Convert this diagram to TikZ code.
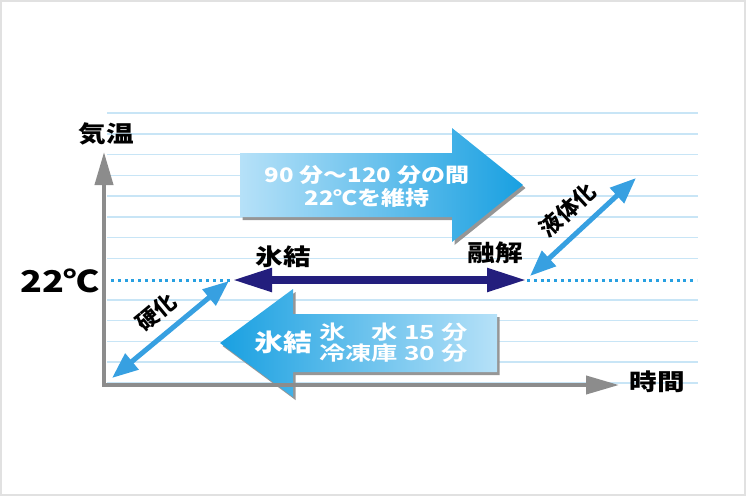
\documentclass[tikz,border=0pt]{standalone}
\usepackage{fontspec}
\usetikzlibrary{arrows.meta}
\newfontfamily\jp{Noto Sans CJK JP}[BoldFont={Noto Sans CJK JP Black}]
\newfontfamily\jpw{Noto Sans CJK JP}[BoldFont={Noto Sans CJK JP Black},FakeStretch=1.2]
\newfontfamily\jpx{Noto Sans CJK JP}[BoldFont={Noto Sans CJK JP Bold},FakeStretch=1.35]
\definecolor{gridblue}{RGB}{200,229,246}
\definecolor{axisgray}{RGB}{140,140,140}
\definecolor{dotblue}{RGB}{40,160,225}
\definecolor{navyblue}{RGB}{35,30,125}
\definecolor{diagblue}{RGB}{55,160,225}
\definecolor{arrowlight}{RGB}{182,225,248}
\definecolor{arrowdeep}{RGB}{25,160,225}
\definecolor{shadowgray}{RGB}{150,150,150}
\definecolor{framegray}{RGB}{225,225,225}
\newcommand\keeppath{(240,153) -- (452,153) -- (452,128) -- (523,185) -- (452,242) -- (452,217) -- (240,217) -- cycle}
\newcommand\frzpath{(497,314) -- (293,314) -- (293,289) -- (220,343) -- (293,397) -- (293,372) -- (497,372) -- cycle}
\tikzset{
  gridline/.style={draw=gridblue,line width=1.5pt},
  axis/.style={draw=axisgray,line width=4pt,{Triangle[width=18pt,length=33pt]}-{Triangle[width=18pt,length=33pt]}},
  lab/.style={inner sep=0pt,text=black,font=\jpw\bfseries\fontsize{23}{23}\selectfont},
  slab/.style={inner sep=0pt,text=black,font=\jp\bfseries\fontsize{22}{22}\selectfont},
  dots/.style={draw=dotblue,line width=3pt,dash pattern=on 3pt off 3.8pt},
  hold/.style={draw=navyblue,line width=8pt,{Triangle[width=22pt,length=40pt]}-{Triangle[width=22pt,length=40pt]}},
  phase/.style={draw=diagblue,line width=5pt,{Triangle[width=20pt,length=26pt]}-{Triangle[width=20pt,length=26pt]}},
  wtext/.style={inner sep=0pt,text=white,font=\jpw\bfseries\fontsize{20}{23}\selectfont},
  wlines/.style={inner sep=0pt,text=white,font=\jpx\bfseries\fontsize{19.5}{21}\selectfont}
}
\begin{document}
\begin{tikzpicture}[x=1pt,y=-1pt]
\useasboundingbox (0,0) rectangle (752,499);
\draw[framegray,line width=1.5pt] (1,1) rectangle (745,495);

\foreach \k in {0,...,7,9,10,11,12,13}
  \draw[gridline] (107,113+20.77*\k) -- (698,113+20.77*\k);

\coordinate (O) at (104,385);
\coordinate (ytop) at (104,152);
\coordinate (xend) at (619,385);
\coordinate (ax22) at (111,280);
\coordinate (r22) at (697,280);
\coordinate (frz) at (232,280);
\coordinate (mlt) at (527,280);
\coordinate (hk1) at (112,378);
\coordinate (hk2) at (229,281);
\coordinate (ek1) at (530,276);
\coordinate (ek2) at (636,178);

\fill[shadowgray,shift={(2.5,3)}] \keeppath;
\shade[left color=arrowlight,right color=arrowdeep] \keeppath;
\fill[shadowgray,shift={(2.5,3)}] \frzpath;
\shade[left color=arrowdeep,right color=arrowlight] \frzpath;

\node[wtext,align=center] (keeptxt) at (367,186) {90 分～120 分の間\\22℃を維持};
\node[inner sep=0pt,text=white,font=\jpw\bfseries\fontsize{24}{24}\selectfont] (frztxt) at (283,342) {氷結};
\node[wlines,anchor=west,align=left] (frztime) at (319,343) {氷　水 15 分\\冷凍庫 30 分};

\draw[dots] (ax22) -- (frz);
\draw[dots] (mlt) -- (r22);
\draw[axis] (xend) -- (O) -- (ytop);
\draw[hold] (frz) -- (mlt);
\draw[phase] (hk1) -- node[sloped,above=10pt,slab] (hktxt) {硬化} (hk2);
\draw[phase] (ek1) -- node[sloped,above=10pt,slab] (ektxt) {液体化} (ek2);

\node[lab] (temp) at (106,134) {気温};
\node[lab] (time) at (657,382) {時間};
\node[lab,font=\jpw\bfseries\fontsize{30}{30}\selectfont] (t22) at (60,281) {22℃};
\node[lab] (frzlab) at (283,257) {氷結};
\node[lab] (mltlab) at (495,253) {融解};
\end{tikzpicture}
\end{document}
